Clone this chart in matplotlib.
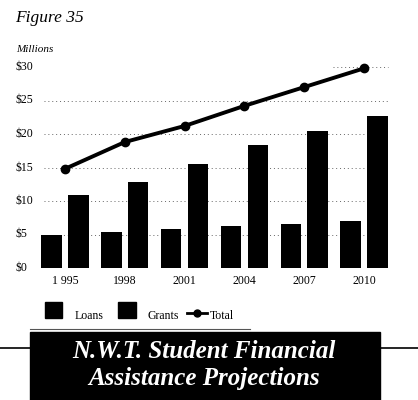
import numpy as np
import matplotlib.pyplot as plt
from matplotlib.patches import Rectangle
from matplotlib.lines import Line2D
import matplotlib.transforms as mtransforms

plt.rcParams['font.family'] = ['Liberation Serif', 'DejaVu Serif']

years = ["1 995", "1998", "2001", "2004", "2007", "2010"]
loans = [5.0, 5.4, 5.8, 6.3, 6.6, 7.0]
grants = [10.9, 12.8, 15.5, 18.3, 20.4, 22.7]
total = [14.8, 18.8, 21.2, 24.2, 27.0, 29.8]
yticks = [0, 5, 10, 15, 20, 25, 30]
ylabels = ["$0", "$5", "$10", "$15", "$20", "$25", "$30"]

W, H = 418, 400
fig = plt.figure(figsize=(W / 100, H / 100), dpi=100)
ax = fig.add_axes([0, (H - 268) / H, 1, 228 / H])

x = np.arange(len(years))
ax.set_xlim(-65 / 59.8, (W - 65) / 59.8)
ax.set_ylim(0, 228 / 6.7)

# dotted guide lines behind the bars
for v in yticks[1:]:
    x0 = 4.48 if v == 30 else -0.35
    ax.hlines(v, x0, 5.40, colors="#666666", linestyles=(0, (1, 3)),
              linewidth=0.7, zorder=1)

bw = 0.34
ax.bar(x - 0.225, loans, bw, color="black", zorder=2)
ax.bar(x + 0.225, grants, bw, color="black", zorder=2)
ax.plot(x, total, color="black", lw=2.8, marker="o", ms=6, zorder=3)

for s in ax.spines.values():
    s.set_visible(False)
ax.set_yticks([])
ax.set_xticks(x)
ax.set_xticklabels(years, fontsize=8.5)
ax.tick_params(axis="x", length=0, pad=5)

trans = mtransforms.blended_transform_factory(ax.transAxes, ax.transData)
for v, lab in zip(yticks, ylabels):
    ax.text(16 / W, v, lab, transform=trans, ha="left", va="center", fontsize=8.5)

fig.text(15 / W, 1 - 22 / H, "Figure 35", style="italic", fontsize=12.5,
         ha="left", va="baseline")
fig.text(16 / W, 1 - 52 / H, "Millions", style="italic", fontsize=8,
         ha="left", va="baseline")

# legend
def px(xp, yp):
    return xp / W, 1 - yp / H

for (xl, xr), lab, tx in [((45, 62), "Loans", 75), ((118, 136), "Grants", 147)]:
    fig.patches.append(Rectangle(px(xl, 318), (xr - xl) / W, 16 / H,
                                 transform=fig.transFigure, color="black"))
    fig.text(*px(tx, 319), lab, fontsize=8.5, ha="left", va="baseline")
fig.lines.append(Line2D([187 / W, 207 / W], [1 - 313 / H] * 2, color="black",
                        lw=2, transform=fig.transFigure))
fig.lines.append(Line2D([197 / W], [1 - 313 / H], color="black", marker="o",
                        ms=5, transform=fig.transFigure))
fig.text(*px(210, 319), "Total", fontsize=8.5, ha="left", va="baseline")

# title banner
fig.lines.append(Line2D([0, 1], [1 - 348 / H] * 2, color="black", lw=1.2,
                        transform=fig.transFigure, zorder=0))
fig.lines.append(Line2D([30 / W, 250 / W], [1 - 329 / H] * 2, color="#555555",
                        lw=0.8, transform=fig.transFigure, zorder=0))
fig.patches.append(Rectangle((30 / W, 0), 350 / W, 68 / H,
                             transform=fig.transFigure, color="black", zorder=1))
fig.text(204 / W, 1 - 351 / H, "N.W.T. Student Financial", color="white",
         fontsize=18, weight="bold", style="italic", ha="center", va="center")
fig.text(204 / W, 1 - 378 / H, "Assistance Projections", color="white",
         fontsize=18, weight="bold", style="italic", ha="center", va="center")

fig.savefig("out.png", dpi=100)
